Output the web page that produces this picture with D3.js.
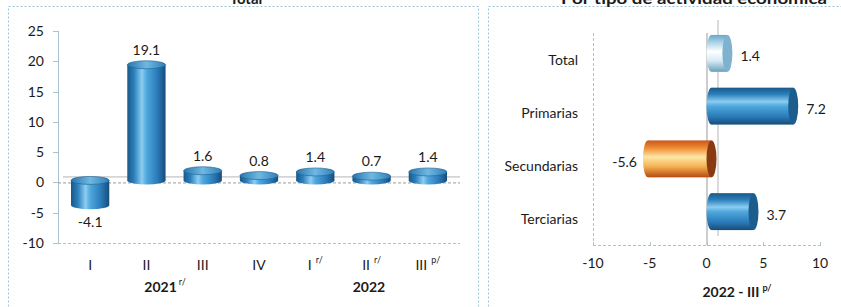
<!DOCTYPE html>
<html>
<head>
<meta charset="utf-8">
<script src="https://cdn.jsdelivr.net/npm/d3@7"></script>
<style>
  body { margin: 0; background: #fff; }
  svg { display: block; font-family: Lato, "Open Sans", sans-serif; }
</style>
</head>
<body>
<svg id="chart" width="841" height="307"></svg>
<script>
// Left panel: quarterly variation, total
const quarters = ['I', 'II', 'III', 'IV', 'I', 'II', 'III'];
const quarterSup = ['', '', '', '', 'r/', 'r/', 'p/'];
const quarterValues = [-4.1, 19.1, 1.6, 0.8, 1.4, 0.7, 1.4];
const yTicks = [-10, -5, 0, 5, 10, 15, 20, 25];
const years = [{ label: '2021', sup: 'r/' }, { label: '2022', sup: '' }];

// Right panel: by economic activity, 2022 - III
const sectors = ['Total', 'Primarias', 'Secundarias', 'Terciarias'];
const sectorValues = [1.4, 7.2, -5.6, 3.7];
const xTicks = [-10, -5, 0, 5, 10];

const svg = d3.select('#chart');
const defs = svg.append('defs');
const ink = '#1b1b1b';
const frame = '#9cc6d6';

function grad(id, stops, vertical) {
  const g = defs.append('linearGradient').attr('id', id)
    .attr('x1', 0).attr('y1', 0)
    .attr('x2', vertical ? 0 : 1).attr('y2', vertical ? 1 : 0);
  stops.forEach(([o, c]) => g.append('stop').attr('offset', o).attr('stop-color', c));
}
const blueStops = [[0, '#1a5888'], [0.18, '#2b80bd'], [0.38, '#8ccdf0'], [0.5, '#4fa8de'], [0.8, '#2878b6'], [1, '#174c78']];
grad('blueH', blueStops, false);
grad('blueV', blueStops, true);
grad('blueTop', [[0, '#2a76ad'], [0.5, '#6fb8e2'], [1, '#2f7fb8']], false);
grad('lightV', [[0, '#6aa7c9'], [0.2, '#a9d2e8'], [0.45, '#ffffff'], [0.7, '#d5ebf5'], [1, '#6a9fbd']], true);
grad('orangeV', [[0, '#c8561a'], [0.2, '#ef8a33'], [0.45, '#fde7a6'], [0.7, '#f5b354'], [1, '#b8480f']], true);

// panel frames
svg.append('rect').attr('x', 8.5).attr('y', 6.5).attr('width', 470).attr('height', 320)
  .attr('fill', 'none').attr('stroke', frame).attr('stroke-dasharray', '2,2');
svg.append('rect').attr('x', 488.5).attr('y', 6.5).attr('width', 370).attr('height', 320)
  .attr('fill', 'none').attr('stroke', frame).attr('stroke-dasharray', '2,2');

// titles (partly cut at the top, as in the source)
svg.append('text').attr('x', 246).attr('y', 4).attr('text-anchor', 'middle')
  .attr('font-weight', 'bold').attr('font-size', 15).attr('fill', ink).text('Total');
svg.append('text').attr('x', 694).attr('y', 4).attr('text-anchor', 'middle')
  .attr('font-weight', 'bold').attr('font-size', 15).attr('fill', ink)
  .attr('textLength', 266).attr('lengthAdjust', 'spacingAndGlyphs')
  .text('Por tipo de actividad económica');

// ---------- left chart ----------
const x = d3.scaleBand().domain(d3.range(quarters.length)).range([62, 456]).paddingInner(0.32).paddingOuter(0.16);
const y = d3.scaleLinear().domain([-10, 25]).range([243, 31]);

const left = svg.append('g');
left.append('line').attr('x1', 58.5).attr('x2', 58.5).attr('y1', y(25)).attr('y2', y(-10))
  .attr('stroke', '#a9c3d3');
left.selectAll('.ytick').data(yTicks).join('line')
  .attr('x1', 53).attr('x2', 58).attr('y1', d => Math.round(y(d)) + 0.5).attr('y2', d => Math.round(y(d)) + 0.5)
  .attr('stroke', '#a9c3d3');
left.selectAll('.ylab').data(yTicks).join('text')
  .attr('x', 44).attr('y', d => y(d) + 5).attr('text-anchor', 'end')
  .attr('font-size', 14).attr('fill', ink).text(d => d);
// floor lines
left.append('line').attr('x1', 58).attr('x2', 460).attr('y1', y(0) + 0.5).attr('y2', y(0) + 0.5)
  .attr('stroke', '#9a9a9a').attr('stroke-dasharray', '3,2');
left.append('line').attr('x1', 63).attr('x2', 460).attr('y1', y(0) - 5.5).attr('y2', y(0) - 5.5)
  .attr('stroke', '#b5b5b5');
left.append('line').attr('x1', 58).attr('x2', 460).attr('y1', y(-10) + 0.5).attr('y2', y(-10) + 0.5)
  .attr('stroke', '#a9c3d3').attr('stroke-dasharray', '3,2');

const ry = 4, dyBar = -2;
const bars = left.selectAll('.bar').data(quarterValues).join('g');
bars.append('rect')
  .attr('x', (d, i) => x(i))
  .attr('width', x.bandwidth())
  .attr('y', d => Math.min(y(d), y(0)) + dyBar)
  .attr('height', d => Math.abs(y(d) - y(0)))
  .attr('fill', 'url(#blueH)');
bars.append('ellipse')
  .attr('cx', (d, i) => x(i) + x.bandwidth() / 2)
  .attr('cy', d => Math.max(y(d), y(0)) + dyBar)
  .attr('rx', x.bandwidth() / 2).attr('ry', ry)
  .attr('fill', 'url(#blueH)');
bars.append('ellipse')
  .attr('cx', (d, i) => x(i) + x.bandwidth() / 2)
  .attr('cy', d => Math.min(y(d), y(0)) + dyBar)
  .attr('rx', x.bandwidth() / 2).attr('ry', ry)
  .attr('fill', 'url(#blueTop)').attr('stroke', '#1f5f90').attr('stroke-width', 0.6);
left.selectAll('.vlab').data(quarterValues).join('text')
  .attr('x', (d, i) => x(i) + x.bandwidth() / 2)
  .attr('y', d => d >= 0 ? y(d) - 12 : y(d) + 20)
  .attr('text-anchor', 'middle').attr('font-size', 14).attr('fill', ink)
  .text(d => d.toFixed(1));

const qlab = left.selectAll('.qlab').data(quarters).join('text')
  .attr('x', (d, i) => x(i) + x.bandwidth() / 2)
  .attr('y', 270).attr('text-anchor', 'middle').attr('font-size', 14).attr('fill', ink);
qlab.append('tspan').text(d => d);
qlab.append('tspan').attr('dx', 4).attr('dy', -7).attr('font-size', 9)
  .text((d, i) => quarterSup[i]);

const yearX = [165, 369];
const ylab = left.selectAll('.year').data(years).join('text')
  .attr('x', (d, i) => yearX[i]).attr('y', 292).attr('text-anchor', 'middle')
  .attr('font-weight', 'bold').attr('font-size', 14).attr('fill', ink);
ylab.append('tspan').text(d => d.label);
ylab.append('tspan').attr('dx', 2).attr('dy', -7).attr('font-size', 9).attr('font-weight', 'normal').text(d => d.sup);

// ---------- right chart ----------
const xs = d3.scaleLinear().domain([-10, 10]).range([593, 820]);
const ys = d3.scaleBand().domain(sectors).range([27, 238]).paddingInner(0.3).paddingOuter(0.15);
const right = svg.append('g');

right.append('line').attr('x1', 593.5).attr('x2', 593.5).attr('y1', 33).attr('y2', 245)
  .attr('stroke', '#a9c3d3').attr('stroke-dasharray', '3,2');
right.append('line').attr('x1', xs(0) + 0.5).attr('x2', xs(0) + 0.5).attr('y1', 33).attr('y2', 245)
  .attr('stroke', '#9a9a9a');
right.append('line').attr('x1', xs(0) + 11.5).attr('x2', xs(0) + 11.5).attr('y1', 20).attr('y2', 236)
  .attr('stroke', '#b5b5b5');
right.append('line').attr('x1', 593).attr('x2', 820).attr('y1', 245.5).attr('y2', 245.5)
  .attr('stroke', '#a9c3d3').attr('stroke-dasharray', '3,2');
right.selectAll('.xtick').data(xTicks).join('line')
  .attr('x1', d => Math.round(xs(d)) + 0.5).attr('x2', d => Math.round(xs(d)) + 0.5)
  .attr('y1', 242).attr('y2', 246).attr('stroke', '#a9c3d3');
right.selectAll('.xlab').data(xTicks).join('text')
  .attr('x', d => xs(d)).attr('y', 268).attr('text-anchor', 'middle')
  .attr('font-size', 14).attr('fill', ink).text(d => d);
right.selectAll('.slab').data(sectors).join('text')
  .attr('x', 578).attr('y', d => ys(d) + ys.bandwidth() / 2 + 12).attr('text-anchor', 'end')
  .attr('font-size', 14).attr('fill', ink).text(d => d);

const dxBar = 5, rx = 5;
const fills = ['url(#lightV)', 'url(#blueV)', 'url(#orangeV)', 'url(#blueV)'];
const caps = ['#7fb2cf', '#1d5d8e', '#8a3a12', '#1d5d8e'];
const hb = right.selectAll('.hbar').data(sectorValues).join('g');
hb.append('ellipse')
  .attr('cx', d => Math.min(xs(d), xs(0)) + dxBar)
  .attr('cy', (d, i) => ys(sectors[i]) + ys.bandwidth() / 2)
  .attr('rx', rx).attr('ry', ys.bandwidth() / 2)
  .attr('fill', (d, i) => fills[i]);
hb.append('rect')
  .attr('x', d => Math.min(xs(d), xs(0)) + dxBar)
  .attr('width', d => Math.abs(xs(d) - xs(0)))
  .attr('y', (d, i) => ys(sectors[i]))
  .attr('height', ys.bandwidth())
  .attr('fill', (d, i) => fills[i]);
hb.append('ellipse')
  .attr('cx', d => Math.max(xs(d), xs(0)) + dxBar)
  .attr('cy', (d, i) => ys(sectors[i]) + ys.bandwidth() / 2)
  .attr('rx', rx).attr('ry', ys.bandwidth() / 2)
  .attr('fill', (d, i) => caps[i]);
right.selectAll('.hlab').data(sectorValues).join('text')
  .attr('x', d => d >= 0 ? xs(d) + dxBar + rx + 8 : xs(d) - 6)
  .attr('y', (d, i) => ys(sectors[i]) + ys.bandwidth() / 2 + 8)
  .attr('text-anchor', d => d >= 0 ? 'start' : 'end')
  .attr('font-size', 14).attr('fill', ink).text(d => d.toFixed(1));

const st = right.append('text').attr('x', 737).attr('y', 297).attr('text-anchor', 'middle')
  .attr('font-weight', 'bold').attr('font-size', 14).attr('fill', ink);
st.append('tspan').text('2022 - III');
st.append('tspan').attr('dx', 3).attr('dy', -6).attr('font-size', 9).text('p/');
</script>
</body>
</html>
